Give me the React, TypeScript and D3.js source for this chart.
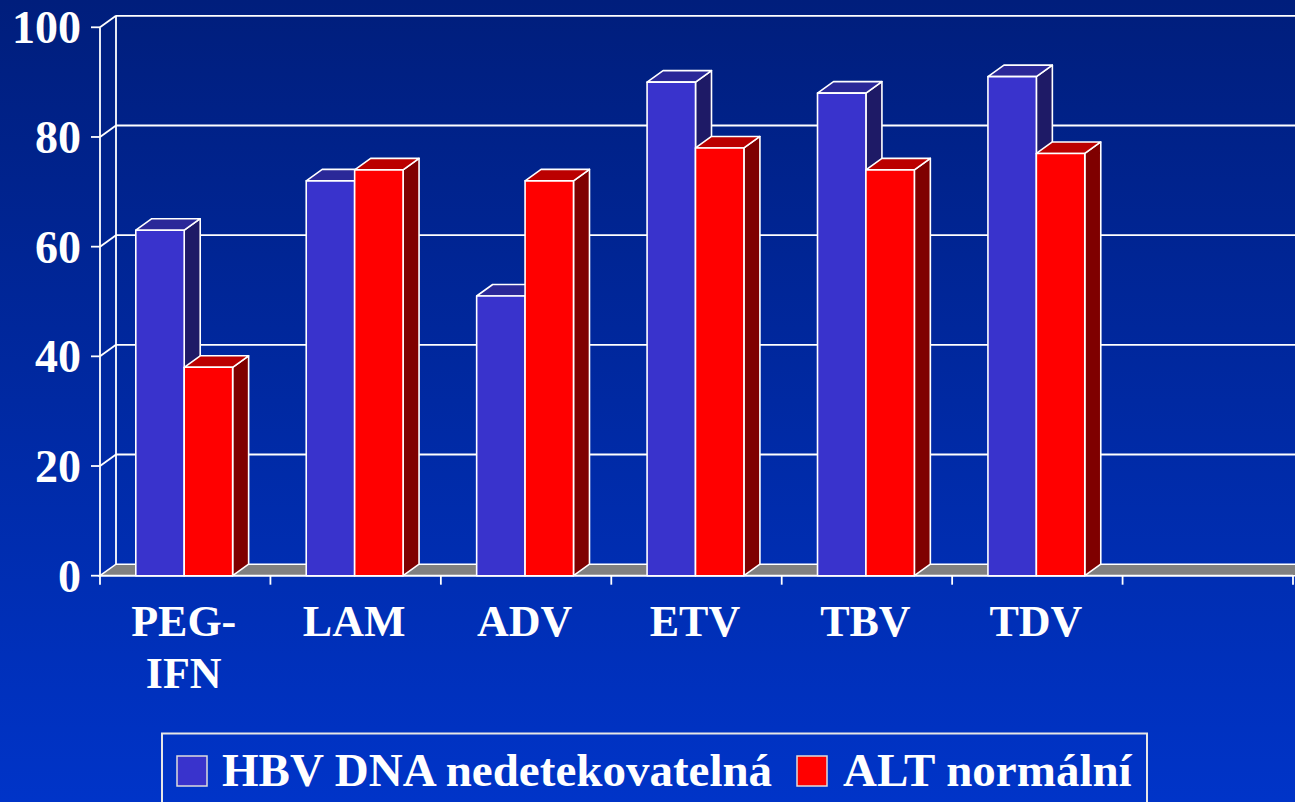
import React from "react";
import * as d3 from "d3";

const categories = ["PEG-IFN", "LAM", "ADV", "ETV", "TBV", "TDV", ""];
const categoryLines = [["PEG-", "IFN"], ["LAM"], ["ADV"], ["ETV"], ["TBV"], ["TDV"], []];
const seriesNames = ["HBV DNA nedetekovatelná", "ALT normální"];
const hbvValues = [63, 72, 51, 90, 88, 91];
const altValues = [38, 74, 72, 78, 74, 77];
const yTicks = [0, 20, 40, 60, 80, 100];

const W = 1295;
const H = 802;
const DX = 16;
const DY = 11.5;
const FONT = "'Liberation Serif', 'Times New Roman', serif";

const seriesColors = [
  { front: "#3933CC", top: "#2A2898", side: "#1E1A66" },
  { front: "#FF0000", top: "#BB0000", side: "#7F0000" },
];

export default function App() {
  const x = d3.scaleBand<string>().domain(categories).range([100, 1293]).paddingInner(0).paddingOuter(0);
  const xs = d3.scaleBand<string>().domain(seriesNames).range([-1, x.bandwidth() - 1]).paddingInner(0).paddingOuter(0.76);
  const y = d3.scaleLinear().domain([0, 100]).range([575.7, 27.3]);
  const y0 = y(0);
  const values = [hbvValues, altValues];

  const bars: JSX.Element[] = [];
  categories.forEach((c, ci) => {
    seriesNames.forEach((s, si) => {
      const v = values[si][ci];
      if (v === undefined) return;
      const x0 = (x(c) as number) + (xs(s) as number);
      const x1 = x0 + xs.bandwidth();
      const yt = y(v);
      const col = seriesColors[si];
      const side = `${x1},${y0} ${x1 + DX},${y0 - DY} ${x1 + DX},${yt - DY} ${x1},${yt}`;
      const top = `${x0},${yt} ${x0 + DX},${yt - DY} ${x1 + DX},${yt - DY} ${x1},${yt}`;
      bars.push(
        <g key={`${ci}-${si}`} stroke="#fff" strokeWidth={1.6} strokeLinejoin="round">
          <polygon points={side} fill={col.side} />
          <polygon points={top} fill={col.top} />
          <rect x={x0} y={yt} width={x1 - x0} height={y0 - yt} fill={col.front} />
        </g>
      );
    });
  });

  const xEnd = 1293;
  const floor = `100,${y0} ${100 + DX},${y0 - DY} ${W + 20},${y0 - DY} ${W + 20},${y0}`;
  const boundaries = categories.map((c) => x(c) as number).concat([xEnd]);

  return (
    <svg width={W} height={H} style={{ position: "absolute", left: 0, top: 0, display: "block" }}>
      <defs>
        <linearGradient id="bg" x1="0" y1="0" x2="0" y2="1">
          <stop offset="0" stopColor="#001E7C" />
          <stop offset="1" stopColor="#0034C8" />
        </linearGradient>
      </defs>
      <rect x={0} y={0} width={W} height={H} fill="url(#bg)" />

      {yTicks.filter((t) => t > 0).map((t) => (
        <g key={t} stroke="#fff" strokeWidth={1.8} fill="none">
          <line x1={100 + DX} x2={W + 5} y1={y(t) - DY} y2={y(t) - DY} />
          <line x1={100} x2={100 + DX} y1={y(t)} y2={y(t) - DY} />
        </g>
      ))}
      <line x1={100 + DX} x2={100 + DX} y1={y(100) - DY} y2={y0 - DY} stroke="#fff" strokeWidth={1.8} />

      <polygon points={floor} fill="#808080" stroke="#fff" strokeWidth={1.6} />

      <line x1={100} x2={100} y1={y(100)} y2={y0} stroke="#fff" strokeWidth={1.8} />
      {yTicks.map((t) => (
        <line key={t} x1={91} x2={100} y1={y(t)} y2={y(t)} stroke="#fff" strokeWidth={1.8} />
      ))}
      <line x1={100} x2={xEnd} y1={y0} y2={y0} stroke="#fff" strokeWidth={1.8} />
      {boundaries.map((b, i) => (
        <line key={i} x1={b} x2={b} y1={y0} y2={y0 + 9} stroke="#fff" strokeWidth={1.8} />
      ))}

      {bars}

      {yTicks.map((t) => (
        <text key={t} x={81} y={y(t) + 16} textAnchor="end" fill="#fff" fontFamily={FONT} fontWeight="bold" fontSize={46}>
          {t}
        </text>
      ))}

      {categories.map((c, ci) => (
        <text key={ci} textAnchor="middle" fill="#fff" fontFamily={FONT} fontWeight="bold" fontSize={44}>
          {categoryLines[ci].map((ln, li) => (
            <tspan key={li} x={(x(c) as number) + x.bandwidth() / 2 - 1.5} y={636 + li * 52}>
              {ln}
            </tspan>
          ))}
        </text>
      ))}

      <rect x={162} y={733.5} width={985} height={80} fill="none" stroke="#E6E6E6" strokeWidth={2} />
      <rect x={177} y={756} width={30} height={30} fill={seriesColors[0].front} stroke="#ddd" strokeWidth={1.5} />
      <text x={222} y={785.5} fill="#fff" fontFamily={FONT} fontWeight="bold" fontSize={47}>
        {seriesNames[0]}
      </text>
      <rect x={797} y={756} width={30} height={30} fill={seriesColors[1].front} stroke="#ddd" strokeWidth={1.5} />
      <text x={843} y={785.5} fill="#fff" fontFamily={FONT} fontWeight="bold" fontSize={47}>
        {seriesNames[1]}
      </text>
    </svg>
  );
}
